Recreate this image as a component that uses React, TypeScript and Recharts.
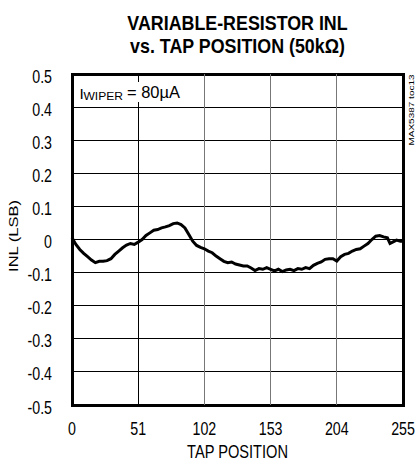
import React from 'react'
import {
  LineChart,
  Line,
  XAxis,
  YAxis,
  CartesianGrid,
  ReferenceLine,
  ReferenceArea,
} from 'recharts'

const tapPosition = [
  0, 3, 6, 9, 12, 15, 18, 21, 24, 27, 30, 33, 36, 39, 42, 45, 48, 51, 54, 57, 60, 63, 66, 69,
  72, 75, 78, 81, 84, 87, 90, 93, 96, 99, 102, 105, 108, 111, 114, 117, 120, 123, 126, 129, 132,
  135, 138, 141, 144, 147, 150, 153, 156, 159, 162, 165, 168, 171, 174, 177, 180, 183, 186, 189,
  192, 195, 198, 201, 204, 207, 210, 213, 216, 219, 222, 225, 228, 231, 234, 237, 240, 243, 245,
  247, 250, 253, 255,
]

const inlLsb = [
  0.005, -0.015, -0.03, -0.042, -0.052, -0.062, -0.07, -0.066, -0.066, -0.064, -0.058, -0.045,
  -0.035, -0.025, -0.017, -0.012, -0.015, -0.008, 0.0, 0.012, 0.02, 0.028, 0.03, 0.035, 0.038,
  0.042, 0.048, 0.05, 0.045, 0.035, 0.015, -0.005, -0.018, -0.024, -0.028, -0.035, -0.04, -0.05,
  -0.058, -0.066, -0.07, -0.068, -0.074, -0.077, -0.08, -0.08, -0.086, -0.094, -0.088, -0.09,
  -0.085, -0.09, -0.095, -0.09, -0.097, -0.092, -0.09, -0.094, -0.088, -0.09, -0.085, -0.088,
  -0.078, -0.072, -0.068, -0.06, -0.058, -0.058, -0.065, -0.052, -0.045, -0.042, -0.035, -0.03,
  -0.028, -0.02, -0.012, 0.0, 0.01, 0.012, 0.008, 0.005, -0.012, -0.008, -0.002, -0.005, -0.005,
]

const xTicks = [0, 51, 102, 153, 204, 255]
const yTicks = [-0.5, -0.4, -0.3, -0.2, -0.1, 0, 0.1, 0.2, 0.3, 0.4, 0.5]

const data = tapPosition.map((tap, i) => ({ tap, inl: inlLsb[i] }))

const FONT = "'Liberation Sans', Arial, sans-serif"
const SQUEEZE = 0.79

// the source uses a condensed face, so plain Liberation Sans gets squeezed sideways
function XTick(props: any) {
  const { x, y, payload } = props
  return (
    <text
      transform={`translate(${x},${y}) scale(${SQUEEZE},1)`}
      textAnchor="middle"
      dy={12.8}
      fontSize={18}
      fontFamily={FONT}
      fill="#000"
    >
      {payload.value}
    </text>
  )
}

function YTick(props: any) {
  const { x, y, payload } = props
  const v = payload.value as number
  return (
    <text
      transform={`translate(${x},${y}) scale(${SQUEEZE},1)`}
      textAnchor="end"
      dy={8.5}
      fontSize={18}
      fontFamily={FONT}
      fill="#000"
    >
      {v === 0 ? '0' : v.toFixed(1)}
    </text>
  )
}

export default function App() {
  return (
    <div style={{ position: 'absolute', left: 0, top: 0, width: 415, height: 461, background: '#fff' }}>
      <LineChart
        width={415}
        height={461}
        data={data}
        margin={{ top: 74, right: 12, left: 32, bottom: 26 }}
      >
        <CartesianGrid vertical={false} stroke="#000" strokeWidth={1} shapeRendering="crispEdges" />
        {xTicks.slice(1, -1).map((t, i) => (
          <ReferenceLine
            key={t}
            x={t}
            stroke={i === 0 ? '#000' : '#777'}
            strokeWidth={1}
            shapeRendering="crispEdges"
          />
        ))}
        <XAxis
          dataKey="tap"
          type="number"
          domain={[0, 255]}
          ticks={xTicks}
          axisLine={false}
          tickLine={false}
          tickSize={0}
          tickMargin={17}
          height={30}
          tick={<XTick />}
        />
        <YAxis
          type="number"
          domain={[-0.5, 0.5]}
          ticks={yTicks}
          axisLine={false}
          tickLine={false}
          tickSize={0}
          tickMargin={20}
          width={40}
          interval={0}
          tick={<YTick />}
        />
        <Line
          type="linear"
          dataKey="inl"
          stroke="#000"
          strokeWidth={3}
          dot={false}
          isAnimationActive={false}
        />
        <ReferenceArea
          x1={0}
          x2={255}
          y1={-0.5}
          y2={0.5}
          fill="none"
          stroke="#000"
          strokeWidth={3}
          shapeRendering="crispEdges"
        />
      </LineChart>

      <svg
        width={415}
        height={461}
        style={{ position: 'absolute', left: 0, top: 0, pointerEvents: 'none' }}
        fontFamily={FONT}
      >
        <text transform="translate(237.5,30) scale(0.85,1)" textAnchor="middle" fontSize={21} fontWeight="bold">
          VARIABLE-RESISTOR INL
        </text>
        <text transform="translate(237.5,53) scale(0.85,1)" textAnchor="middle" fontSize={21} fontWeight="bold">
          vs. TAP POSITION (50kΩ)
        </text>

        <rect x={77} y={82} width={106} height={20} fill="#fff" />
        <text x={79.5} y={98.5} fontSize={15.5}>
          I
        </text>
        <text x={83.5} y={99.5} fontSize={11} textLength={39.5} lengthAdjust="spacingAndGlyphs">
          WIPER
        </text>
        <text x={127} y={97.5} fontSize={17} textLength={53} lengthAdjust="spacingAndGlyphs">
          {' = 80µA'}
        </text>

        <text transform="translate(18,236) rotate(-90) scale(1,0.8)" textAnchor="middle" fontSize={16.5}>
          INL (LSB)
        </text>
        <text transform="translate(237.5,457.5) scale(0.79,1)" textAnchor="middle" fontSize={18.5}>
          TAP POSITION
        </text>
        <text transform="translate(414,110) rotate(-90) scale(1,0.8)" textAnchor="middle" fontSize={10}>
          MAX5387 toc13
        </text>
      </svg>
    </div>
  )
}
